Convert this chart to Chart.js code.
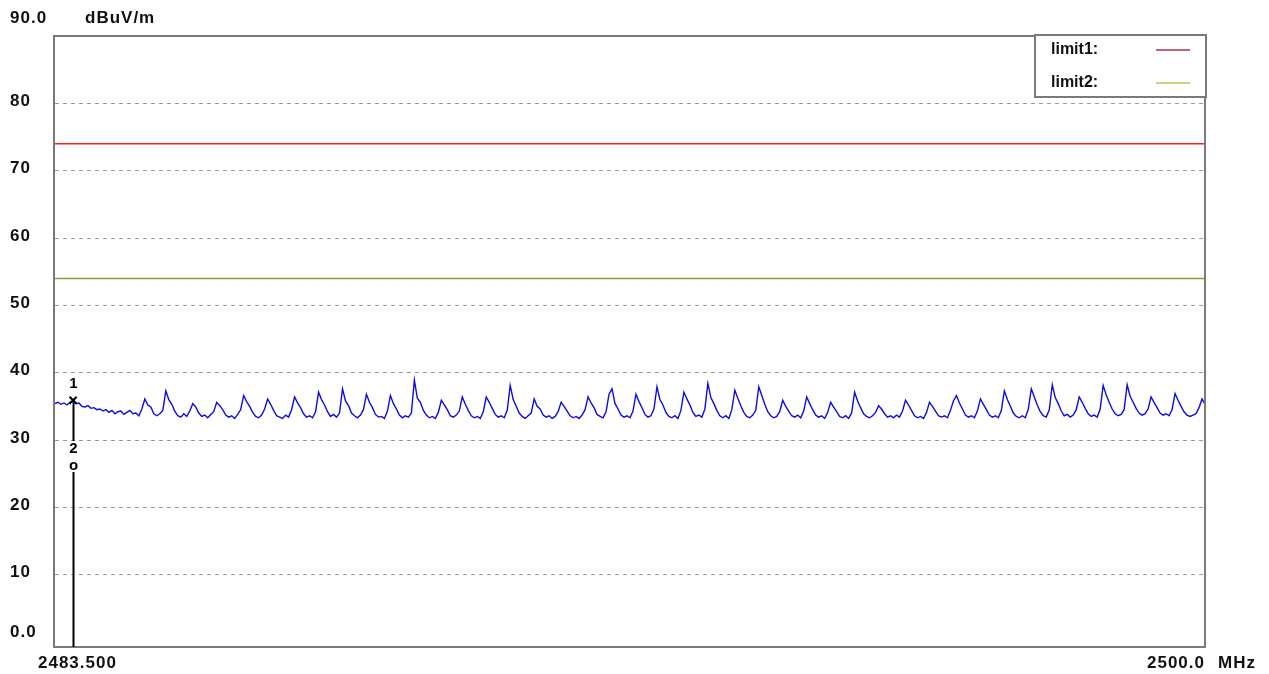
<!DOCTYPE html>
<html>
<head>
<meta charset="utf-8">
<script src="https://cdn.jsdelivr.net/npm/chart.js@4/dist/chart.umd.min.js"></script>
<style>
  html, body { margin: 0; padding: 0; background: #ffffff; }
  #wrap { width: 1269px; height: 674px; position: relative; }
</style>
</head>
<body>
<div id="wrap"><canvas id="c" width="1269" height="674"></canvas></div>
<script>
// ---- data ----
const freqStartMHz = 2483.5;
const freqStopMHz = 2500.0;
const yUnit = 'dBuV/m';
const xUnit = 'MHz';
const yTickValues = [0, 10, 20, 30, 40, 50, 60, 70, 80];
const yTickLabels = ['0.0', '10', '20', '30', '40', '50', '60', '70', '80'];
const yTopLabel = '90.0';
const xStartLabel = '2483.500';
const xStopLabel = '2500.0';

const limitNames = ['limit1:', 'limit2:'];
const limitLevels = [74, 54];
const limitColors = ['#ff2020', '#8ea033'];
const limitLegendColors = ['#b0304a', '#b5c85a'];

const markerLabels = ['1', '2'];
const markerFreqs = [2483.76, 2483.76];
const markerLevels = [35.9, 26.6];

// measured trace (uniform sweep points from start to stop)
const traceLevels = [
35.4,35.6,35.3,35.5,35.2,35.6,35.8,35.4,35.5,35.0,
34.9,35.1,34.7,34.8,34.5,34.6,34.3,34.5,34.1,34.4,
33.9,34.2,34.3,33.8,34.1,34.4,33.9,34.0,33.6,34.6,
36.1,35.2,34.9,33.9,33.6,33.9,34.4,37.3,36.0,35.3,
34.3,33.6,33.4,33.9,33.5,34.3,35.4,34.9,34.0,33.5,
33.7,33.3,33.8,34.2,35.6,35.1,34.5,33.7,33.4,33.6,
33.2,33.8,34.5,36.6,35.7,35.0,34.1,33.5,33.3,33.7,
34.6,36.1,35.3,34.4,33.6,33.4,33.2,33.7,33.4,34.5,
36.4,35.5,34.8,33.9,33.4,33.6,33.3,34.2,37.1,36.0,
35.2,34.2,33.5,33.8,33.4,34.0,37.6,35.8,35.1,34.0,
33.6,33.3,33.7,34.5,36.8,35.6,34.8,33.8,33.4,33.5,
33.2,34.3,36.6,35.4,34.6,33.7,33.3,33.6,33.4,34.0,
38.9,36.2,35.6,34.4,33.7,33.3,33.5,33.2,34.1,35.9,
35.2,34.5,33.6,33.4,33.7,34.3,36.4,35.3,34.4,33.6,
33.3,33.5,33.2,34.2,36.4,35.6,34.7,33.8,33.4,33.6,
33.3,34.4,38.1,36.0,35.0,34.0,33.5,33.2,33.6,34.0,
36.1,35.0,34.6,33.7,33.4,33.6,33.2,33.5,34.2,35.6,
35.0,34.3,33.6,33.3,33.5,33.2,33.7,34.5,36.4,35.5,
34.8,33.8,33.5,33.3,34.2,36.8,37.6,35.4,34.6,33.7,
33.4,33.6,33.3,34.3,36.8,35.7,34.8,33.8,33.4,33.6,
34.6,37.9,36.0,35.2,34.1,33.5,33.3,33.6,33.2,34.4,
37.1,36.1,35.2,34.1,33.5,33.7,33.4,34.6,38.4,36.3,
35.4,34.4,33.6,33.3,33.6,33.2,34.5,37.4,36.2,35.1,
34.1,33.5,33.3,33.7,34.4,37.9,36.6,35.3,34.2,33.6,
33.3,33.5,34.2,35.9,35.0,34.3,33.6,33.4,33.7,33.3,
34.3,36.4,35.4,34.5,33.7,33.4,33.6,33.2,34.1,35.6,
34.9,34.2,33.5,33.3,33.6,33.2,34.0,37.1,35.8,34.8,
33.9,33.5,33.3,33.6,34.1,35.1,34.6,33.9,33.4,33.6,
33.3,33.7,33.4,34.3,35.9,35.2,34.4,33.6,33.3,33.5,
33.2,34.1,35.6,35.0,34.3,33.6,33.4,33.6,33.3,34.4,
35.8,36.6,35.5,34.6,33.7,33.4,33.6,33.3,34.3,36.1,
35.3,34.5,33.7,33.4,33.6,33.3,34.4,37.3,36.0,35.0,
34.0,33.5,33.3,33.6,33.3,34.6,37.6,36.4,35.2,34.2,
33.6,33.4,34.5,38.2,36.3,35.4,34.3,33.6,33.8,33.4,
33.7,34.5,36.4,35.6,34.7,33.9,33.5,33.7,33.4,34.6,
38.1,36.7,35.6,34.6,33.9,33.6,33.8,34.5,38.2,36.5,
35.6,34.7,34.0,33.7,33.9,34.6,36.4,35.6,34.8,34.0,
33.7,33.9,33.6,34.5,36.9,35.9,35.0,34.2,33.7,33.5,
33.7,33.9,34.8,36.1,35.3
];

// ---- build datasets ----
const sweepStep = (freqStopMHz - freqStartMHz) / (traceLevels.length - 1);
const tracePoints = traceLevels.map((v, i) => ({ x: freqStartMHz + i * sweepStep, y: v }));

const datasets = [
  {
    label: 'trace', data: tracePoints, borderColor: '#0c0ce0', borderWidth: 1.4,
    pointRadius: 0, tension: 0, fill: false, order: 1
  }
];
limitLevels.forEach((lv, k) => {
  datasets.push({
    label: limitNames[k],
    data: [{ x: freqStartMHz, y: lv }, { x: freqStopMHz, y: lv }],
    borderColor: limitColors[k], borderWidth: 1.5, pointRadius: 0, fill: false, order: 2
  });
});
datasets.push({
  label: 'marker1', type: 'scatter',
  data: [{ x: markerFreqs[0], y: markerLevels[0] }],
  pointStyle: 'crossRot', pointRadius: 5, borderColor: '#000', borderWidth: 2,
  backgroundColor: '#000', order: 0
});

const FONT = 'bold 17px "Liberation Sans", Arial, sans-serif';

const decor = {
  id: 'decor',
  beforeDraw(chart) {
    const { ctx } = chart;
    ctx.save();
    ctx.fillStyle = '#ffffff';
    ctx.fillRect(0, 0, chart.width, chart.height);
    ctx.restore();
  },
  afterDatasetsDraw(chart) {
    const { ctx, chartArea: a, scales } = chart;
    const xs = scales.x, ys = scales.y;
    ctx.save();
    // frame
    ctx.strokeStyle = '#7a7a7a';
    ctx.lineWidth = 2;
    ctx.strokeRect(a.left - 1, a.top, a.right - a.left + 1, a.bottom - a.top + 5);

    // marker line and labels
    const mx = Math.round(xs.getPixelForValue(markerFreqs[0])) + 0.5;
    const y1 = ys.getPixelForValue(markerLevels[0]);
    const y2 = ys.getPixelForValue(markerLevels[1]);
    ctx.strokeStyle = '#000';
    ctx.lineWidth = 2;
    ctx.beginPath();
    ctx.moveTo(mx, y1);
    ctx.lineTo(mx, y2 - 22);
    ctx.moveTo(mx, y2 + 9);
    ctx.lineTo(mx, a.bottom + 5);
    ctx.stroke();
    ctx.fillStyle = '#000';
    ctx.font = 'bold 15px "Liberation Sans", Arial, sans-serif';
    ctx.textAlign = 'center';
    ctx.textBaseline = 'middle';
    ctx.fillText(markerLabels[0], mx, y1 - 16);
    ctx.fillText(markerLabels[1], mx, y2 - 14);
    ctx.fillText('o', mx, y2 + 3);

    // axis labels
    ctx.font = FONT;
    ctx.letterSpacing = '1px';
    ctx.fillStyle = '#111';
    ctx.textAlign = 'left';
    yTickValues.forEach((v, i) => {
      const py = ys.getPixelForValue(v);
      ctx.fillText(yTickLabels[i], 10, v === 0 ? py - 10 : py - 2);
    });
    ctx.fillText(yTopLabel, 10, 18);
    ctx.fillText(yUnit, 85, 18);
    ctx.fillText(xStartLabel, 38, 663);
    ctx.textAlign = 'right';
    ctx.fillText(xStopLabel, xs.getPixelForValue(freqStopMHz), 663);
    ctx.textAlign = 'left';
    ctx.fillText(xUnit, 1218, 663);
    ctx.letterSpacing = '0px';

    // legend box
    const lx = 1035, ly = a.top - 1, lw = a.right - lx + 1, lh = 62;
    ctx.fillStyle = '#ffffff';
    ctx.fillRect(lx, ly, lw, lh);
    ctx.strokeStyle = '#7a7a7a';
    ctx.lineWidth = 2;
    ctx.strokeRect(lx, ly, lw, lh);
    ctx.font = 'bold 16px "Liberation Sans", Arial, sans-serif';
    ctx.fillStyle = '#111';
    limitNames.forEach((n, k) => {
      const ty = ly + 15 + k * 33;
      ctx.fillText(n, 1051, ty);
      ctx.strokeStyle = limitLegendColors[k];
      ctx.lineWidth = 1.5;
      ctx.beginPath();
      ctx.moveTo(1156, ty);
      ctx.lineTo(1190, ty);
      ctx.stroke();
    });
    ctx.restore();
  }
};

new Chart(document.getElementById('c'), {
  type: 'line',
  data: { datasets },
  options: {
    responsive: false,
    animation: false,
    layout: { padding: { top: 36, right: 64, left: 0, bottom: 0 } },
    plugins: { legend: { display: false }, tooltip: { enabled: false }, title: { display: false } },
    scales: {
      x: {
        type: 'linear', min: freqStartMHz, max: freqStopMHz,
        ticks: { display: false }, grid: { display: false }, border: { display: false },
        afterFit(s) { s.height = 32; }
      },
      y: {
        type: 'linear', min: 0, max: 90,
        ticks: { display: false, stepSize: 10 },
        grid: {
          drawTicks: false,
          color: (c) => (c.tick && (c.tick.value === 0 || c.tick.value === 90)) ? 'rgba(0,0,0,0)' : '#9a9a9a',
          lineWidth: 1
        },
        border: { display: false, dash: [4, 4] },
        afterFit(s) { s.width = 55; }
      }
    }
  },
  plugins: [decor]
});
</script>
</body>
</html>
